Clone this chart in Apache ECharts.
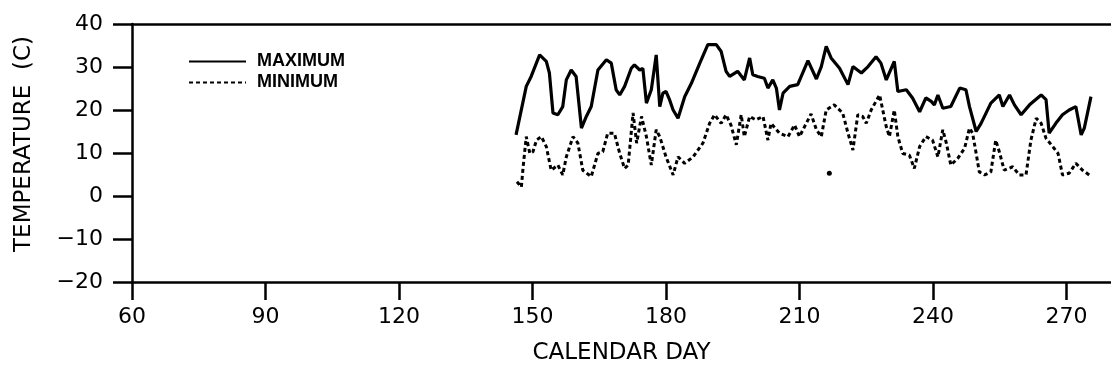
<!DOCTYPE html>
<html>
<head>
<meta charset="utf-8">
<script src="https://cdn.jsdelivr.net/npm/echarts@6/dist/echarts.min.js"></script>
<style>
  html, body { margin: 0; padding: 0; background: #fff; }
  #chart { width: 1111px; height: 371px; }
</style>
</head>
<body>
<div id="chart"></div>
<script>
// calendar day ticks
var dayTicks = [60, 90, 120, 150, 180, 210, 240, 270];

// daily maximum temperature (C)
var maxDays = [146.3, 148.6, 149.7, 151.6, 153.1, 153.8, 154.6, 155.7, 156.8, 157.6, 158.7, 159.8,
  161, 162.1, 163.2, 164.7, 166.6, 167.7, 168.8, 169.6, 170.7, 172.2, 172.9, 174.1, 174.8,
  175.6, 176.7, 177.8, 178.6, 179.3, 180, 180.8, 181.6, 182.7, 184.2, 185.7, 187.6, 189.4,
  191.3, 192.4, 193.5, 194.3, 196.1, 197.6, 198.8, 199.5, 200.6, 202.1, 202.9, 204, 204.8,
  205.5, 206.3, 207.8, 209.6, 211.9, 213.8, 214.9, 216, 217.1, 219, 220.9, 222, 223.9,
  225.4, 227.2, 228.3, 229.5, 231.3, 232.1, 234, 235.4, 237, 238.4, 239.6, 240.3, 241.1,
  242.2, 244, 246, 247.4, 248.2, 249.7, 250.8, 253, 254.9, 255.7, 257.2, 258.3, 259.8,
  261.7, 264.3, 265.4, 266.1, 267.6, 269.1, 270.6, 272.1, 273.3, 274, 275.5];
var maxTemps = [14.2, 25.5, 27.8, 32.8, 31.3, 28.6, 19.3, 18.9, 20.8, 27, 29.3, 27.8,
  15.8, 18.5, 20.8, 29.3, 31.7, 30.9, 24.7, 23.5, 25.5, 29.7, 30.5, 29.3, 29.7,
  21.6, 24.7, 32.8, 20.8, 23.9, 24.3, 22.4, 20, 18.1, 23.1, 26.2, 30.9, 35.2,
  35.2, 33.6, 29, 27.8, 29, 27, 32.1, 28.2, 27.8, 27.4, 25.1, 27, 25.1,
  20, 23.9, 25.5, 25.9, 31.5, 27.2, 30.1, 34.8, 32.1, 29.7, 25.9, 30.1, 28.6,
  30.1, 32.4, 30.9, 27, 31.3, 24.3, 24.7, 22.8, 19.6, 22.8, 22, 21.2, 23.5,
  20.4, 20.8, 25.1, 24.7, 20.8, 15, 16.9, 21.6, 23.5, 20.8, 23.5, 21.2, 18.9,
  21.2, 23.5, 22.4, 14.6, 16.9, 18.9, 20, 20.8, 14.2, 15.8, 23.1];

// daily minimum temperature (C)
var minDays = [146.5, 147.5, 147.9, 148.6, 149.4, 150.1, 150.9, 152, 153.1, 154.2, 155.7, 156.8,
  157.6, 159.1, 160.2, 161.3, 163.2, 164.7, 165.8, 166.9, 168.4, 169.6, 170.7, 171.5,
  172.6, 173.4, 174.5, 175.6, 176.7, 177.8, 178.6, 180, 181.6, 182.7, 184.2, 186.1,
  188.3, 189.8, 190.9, 192.4, 193.5, 194.6, 195.8, 196.9, 197.6, 198.8, 200.2, 201.8,
  202.9, 203.6, 205.5, 207.4, 208.9, 210, 212.6, 213.8, 214.9, 216, 217.8, 219.7,
  220.9, 222, 223.1, 224.2, 225, 226.1, 228, 229.5, 230.2, 231.3, 232.1, 233.2,
  234.7, 235.8, 237, 238.4, 239.9, 241.1, 242.2, 243, 244, 245.6, 247.1, 248.2,
  248.9, 249.7, 250.4, 251.6, 253, 254.1, 254.9, 256, 257.9, 259.4, 260.9, 262,
  263.2, 264.3, 265.4, 266.9, 268.1, 269.1, 270.6, 272.1, 273.6, 275.1];
var minTemps = [3.3, 2.1, 6.8, 13.8, 9.9, 10.3, 13, 13.8, 11.5, 6, 7.2, 4.9,
  9.1, 13.8, 12.3, 6, 4.5, 9.9, 10.3, 14.6, 14.6, 9.9, 6.4, 7.2,
  19.3, 12.3, 18.5, 13.8, 7.2, 15.4, 13.8, 9.1, 4.9, 9.1, 7.6, 9.1,
  12.3, 16.9, 18.9, 16.9, 18.9, 16.5, 11.9, 18.9, 13.8, 18.5, 17.7, 18.5,
  13, 16.9, 14.6, 13.8, 16.5, 13.8, 19.1, 15.4, 13.8, 20, 21.2, 19.3,
  14.6, 10.7, 18.9, 18.5, 16.9, 20, 23.5, 16.1, 13.8, 20, 13.8, 9.9,
  9.5, 6.4, 11.5, 13.8, 13, 9.1, 15.4, 12.3, 7.2, 8.8, 11.1, 15.8,
  14.6, 9.9, 5.6, 4.9, 5.6, 13, 10.3, 6, 6.8, 4.9, 4.9, 13,
  18.1, 16.9, 13.4, 11.5, 9.9, 4.9, 5.3, 7.6, 6, 4.9];

// lone minimum reading
var strayDays = [216.7];
var strayTemps = [5.3];

function pairs(xs, ys) {
  return xs.map(function (x, i) { return [x, ys[i]]; });
}

var chart = echarts.init(document.getElementById('chart'));
var font = 'DejaVu Sans';

var option = {
  animation: false,
  backgroundColor: '#fff',
  grid: { left: 132, right: 0, top: 24, bottom: 89 },
  legend: {
    orient: 'vertical',
    left: 183,
    top: 46,
    itemWidth: 57,
    itemHeight: 14,
    itemGap: 0,
    data: ['MAXIMUM', 'MINIMUM'],
    itemStyle: { opacity: 0 },
    textStyle: { color: '#000', fontFamily: 'Liberation Sans', fontWeight: 'bold', fontSize: 18, lineHeight: 21, padding: [0, 0, 0, 6] }
  },
  xAxis: [{
    type: 'value',
    min: 60,
    max: 280,
    interval: 30,
    name: 'CALENDAR DAY',
    nameLocation: 'middle',
    nameGap: 60,
    nameTextStyle: { color: '#000', fontFamily: font, fontSize: 23 },
    axisLine: { onZero: false, lineStyle: { color: '#000', width: 2.5 } },
    axisTick: { length: 18, lineStyle: { color: '#000', width: 2.5 }, customValues: dayTicks },
    axisLabel: { color: '#000', fontFamily: font, fontSize: 22, margin: 24, customValues: dayTicks },
    splitLine: { show: false }
  }, {
    type: 'value',
    position: 'top',
    min: 60,
    max: 280,
    axisLine: { show: true, onZero: false, lineStyle: { color: '#000', width: 2.5 } },
    axisTick: { show: false },
    axisLabel: { show: false },
    splitLine: { show: false }
  }],
  yAxis: {
    type: 'value',
    min: -20,
    max: 40,
    interval: 10,
    name: 'TEMPERATURE  (C)',
    nameLocation: 'middle',
    nameGap: 96,
    nameTextStyle: { color: '#000', fontFamily: font, fontSize: 23, padding: [0, 0, 0, 18] },
    axisLine: { show: true, onZero: false, lineStyle: { color: '#000', width: 2.5 } },
    axisTick: { show: true, length: 19, lineStyle: { color: '#000', width: 2.5 } },
    axisLabel: {
      color: '#000', fontFamily: font, fontSize: 22, margin: 29,
      formatter: function (v) { return v < 0 ? '\u2212' + Math.abs(v) : String(v); }
    },
    splitLine: { show: false }
  },
  series: [{
    name: 'MAXIMUM',
    type: 'line',
    data: pairs(maxDays, maxTemps),
    showSymbol: false,
    symbol: 'none',
    lineStyle: { color: '#000', width: 3.2 },
    itemStyle: { color: '#000' }
  }, {
    name: 'MINIMUM',
    type: 'line',
    data: pairs(minDays, minTemps),
    showSymbol: false,
    symbol: 'none',
    lineStyle: { color: '#000', width: 3, type: [4, 3] },
    itemStyle: { color: '#000' }
  }, {
    name: 'stray',
    type: 'scatter',
    data: pairs(strayDays, strayTemps),
    symbolSize: 5,
    itemStyle: { color: '#000', opacity: 1 }
  }]
};

chart.setOption(option);
</script>
</body>
</html>
